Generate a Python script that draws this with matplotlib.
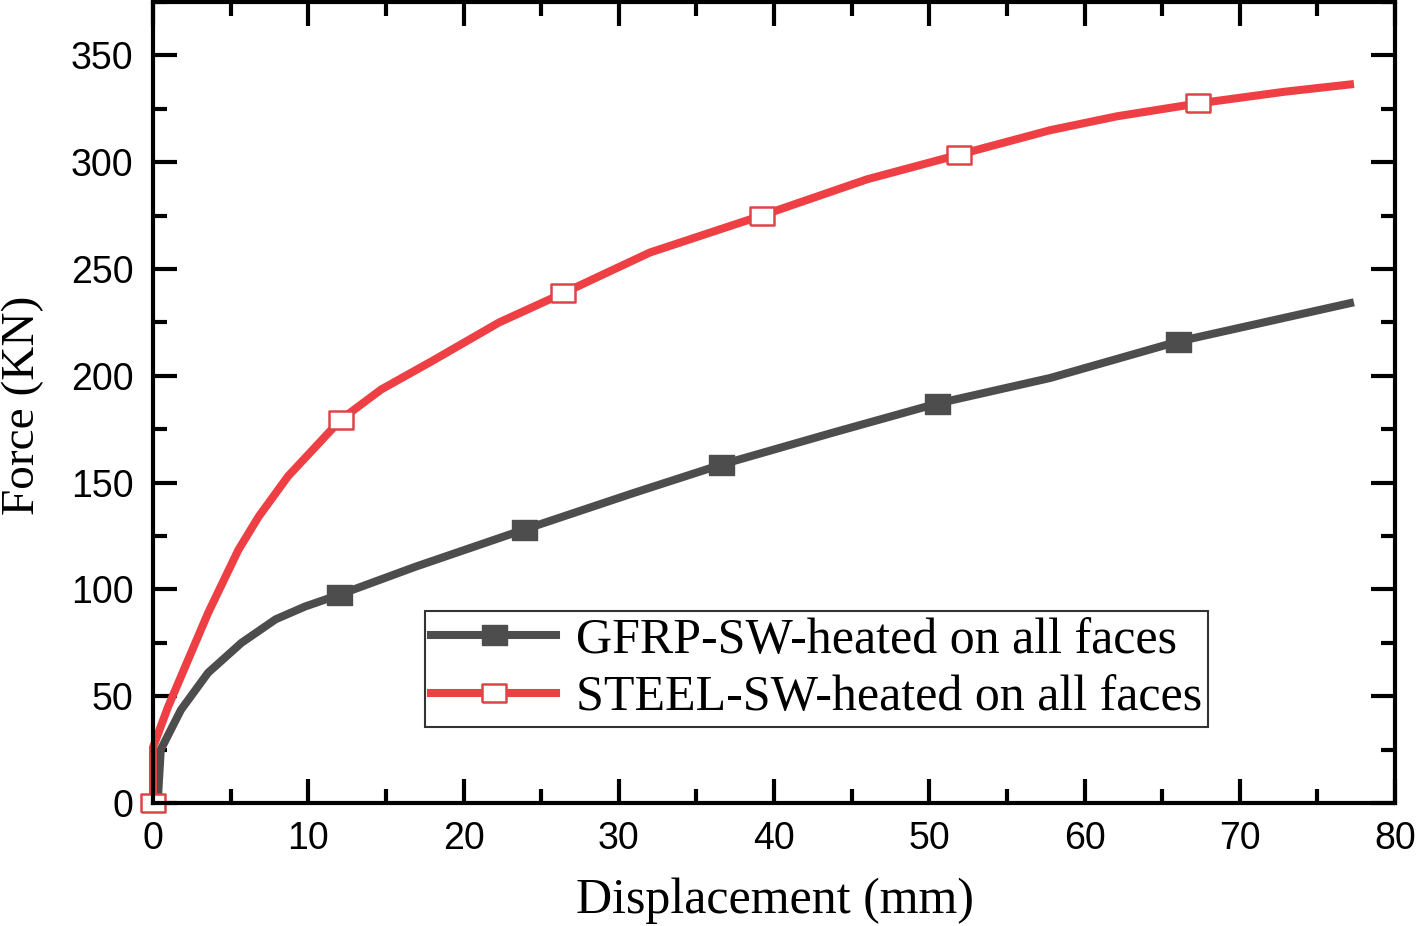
import matplotlib

matplotlib.use("Agg")
import matplotlib.pyplot as plt
from matplotlib.ticker import MultipleLocator

# GFRP-SW curve (displacement mm, force kN)
gfrp_disp = [0.3, 0.5, 1.8, 3.55, 5.7, 7.9, 9.8, 12.0, 16.9, 23.9, 30.9, 36.6,
             43.8, 50.5, 57.8, 66.0, 77.1]
gfrp_force = [0, 25, 43.6, 61, 75, 86, 92, 97.5, 110.6, 128, 145, 158.4,
              173.4, 187, 199, 216, 234]
gfrp_marks = [7, 9, 11, 13, 15]

# STEEL-SW curve
steel_disp = [0.0, 0.0, 0.97, 2.26, 3.55, 5.5, 6.8, 8.7, 10.5, 12.1, 14.7, 18.0,
              22.3, 26.4, 32.0, 39.2, 46.0, 51.9, 57.8, 62.1, 67.3, 72.9, 77.1]
steel_force = [0, 26, 45, 67, 89, 118.5, 134, 153, 167, 179.5, 193.6, 207,
               225, 238.6, 257.7, 275, 292, 303.5, 315, 321.5, 327.5, 333, 336.4]
steel_marks = [0, 9, 13, 15, 17, 20]

labels = ["GFRP-SW-heated on all faces", "STEEL-SW-heated on all faces"]

# squares in the original are a bit wider than tall
box = [(-1.0, -0.8), (1.0, -0.8), (1.0, 0.8), (-1.0, 0.8), (-1.0, -0.8)]

fig = plt.figure(figsize=(14.17, 9.26), dpi=100)
ax = fig.add_axes([153 / 1417, 1 - 803 / 926, (1395 - 153) / 1417, (803 - 2) / 926])

ax.plot(gfrp_disp, gfrp_force, color="#4d4d4d", lw=5.8, marker=box, ms=18,
        markevery=gfrp_marks, mfc="#4d4d4d", mec="#4d4d4d", label=labels[0],
        solid_joinstyle="round")
ax.plot(steel_disp, steel_force, color="#ee4044", lw=5.8, marker=box, ms=17,
        markevery=steel_marks, mfc="white", mec="#dd4448", mew=1.8, label=labels[1],
        solid_joinstyle="round", clip_on=False)

ax.set_xlim(0, 80)
ax.set_ylim(0, 375)
ax.xaxis.set_major_locator(MultipleLocator(10))
ax.xaxis.set_minor_locator(MultipleLocator(5))
ax.yaxis.set_major_locator(MultipleLocator(50))
ax.yaxis.set_minor_locator(MultipleLocator(25))
ax.tick_params(which="both", direction="in", top=True, right=True, width=3,
               labelsize=27)
ax.tick_params(axis="x", pad=13)
ax.tick_params(axis="y", pad=14)
ax.tick_params(which="major", length=17)
ax.tick_params(which="minor", length=10)
for lab in ax.get_xticklabels() + ax.get_yticklabels():
    lab.set_fontfamily("Liberation Sans")
for s in ax.spines.values():
    s.set_linewidth(3)

ax.set_xlabel("Displacement (mm)", family="Liberation Serif", fontsize=36)
ax.set_ylabel("Force (KN)", family="Liberation Serif", fontsize=34)
ax.xaxis.set_label_coords((775 - 153) / 1242, -(878 - 803) / 801)
ax.yaxis.set_label_coords(-(153 - 44) / 1242, (803 - 405) / 801)

leg = ax.legend(loc="lower left", bbox_to_anchor=((425 - 153) / 1242, (803 - 727) / 801),
                prop={"family": "Liberation Serif", "size": 36}, frameon=True,
                fancybox=False, edgecolor="black", handlelength=2.5,
                borderpad=0.12, labelspacing=0.22, handletextpad=0.4, borderaxespad=0)
leg.get_frame().set_linewidth(1.5)

fig.savefig("out.png", dpi=100)
